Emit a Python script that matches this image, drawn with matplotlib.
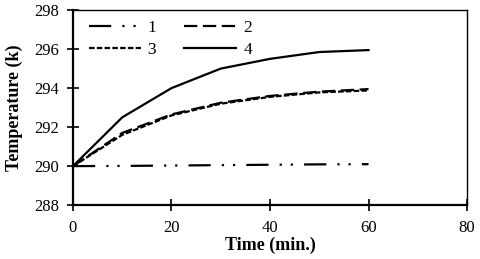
import matplotlib.pyplot as plt

plt.rcParams['font.family'] = ['Liberation Serif', 'DejaVu Serif']

time = [0, 10, 20, 30, 40, 50, 60]
t1 = [290.0, 290.01, 290.03, 290.05, 290.07, 290.09, 290.1]
t2 = [290.0, 291.7, 292.65, 293.25, 293.6, 293.82, 293.95]
t3 = [290.0, 291.6, 292.6, 293.2, 293.55, 293.78, 293.88]
t4 = [290.0, 292.5, 294.0, 295.0, 295.5, 295.85, 295.95]
labels = ['1', '2', '3', '4']

fig = plt.figure(figsize=(4.8, 2.59), dpi=100)
ax = fig.add_axes([0.152, 0.208, 0.821, 0.753])

l1, = ax.plot(time, t1, color='black', lw=1.6, dashes=(10, 5, 1, 4, 1, 5), label=labels[0])
l2, = ax.plot(time, t2, color='black', lw=1.6, dashes=(6, 2.5), label=labels[1])
l3, = ax.plot(time, t3, color='black', lw=1.6, dashes=(2.5, 1), label=labels[2])
l4, = ax.plot(time, t4, color='black', lw=1.6, label=labels[3])

ax.set_xlim(0, 80)
ax.set_ylim(288, 298)
ax.set_xticks([0, 20, 40, 60, 80])
ax.set_yticks(range(288, 299, 2))
ax.tick_params(direction='inout', length=8, width=1.2, labelsize=12)
ax.tick_params(axis='y', pad=6)
ax.tick_params(axis='x', pad=7)
for s in ['left', 'bottom']:
    ax.spines[s].set_linewidth(1.6)
for s in ['top', 'right']:
    ax.spines[s].set_linewidth(1.0)

ax.set_xlabel('Time (min.)', fontsize=13, fontweight='bold', labelpad=0)
ax.set_ylabel('Temperature (k)', fontsize=13, fontweight='bold', labelpad=8)

# row-wise order: 1 2 / 3 4
ax.legend([l1, l3, l2, l4], [labels[0], labels[2], labels[1], labels[3]],
          ncol=2, loc='upper left', frameon=False, fontsize=12.5, handlelength=3.0,
          columnspacing=1.6, handletextpad=0.4, labelspacing=0.35,
          bbox_to_anchor=(0.0, 1.03))

fig.savefig('out.png', dpi=100)
